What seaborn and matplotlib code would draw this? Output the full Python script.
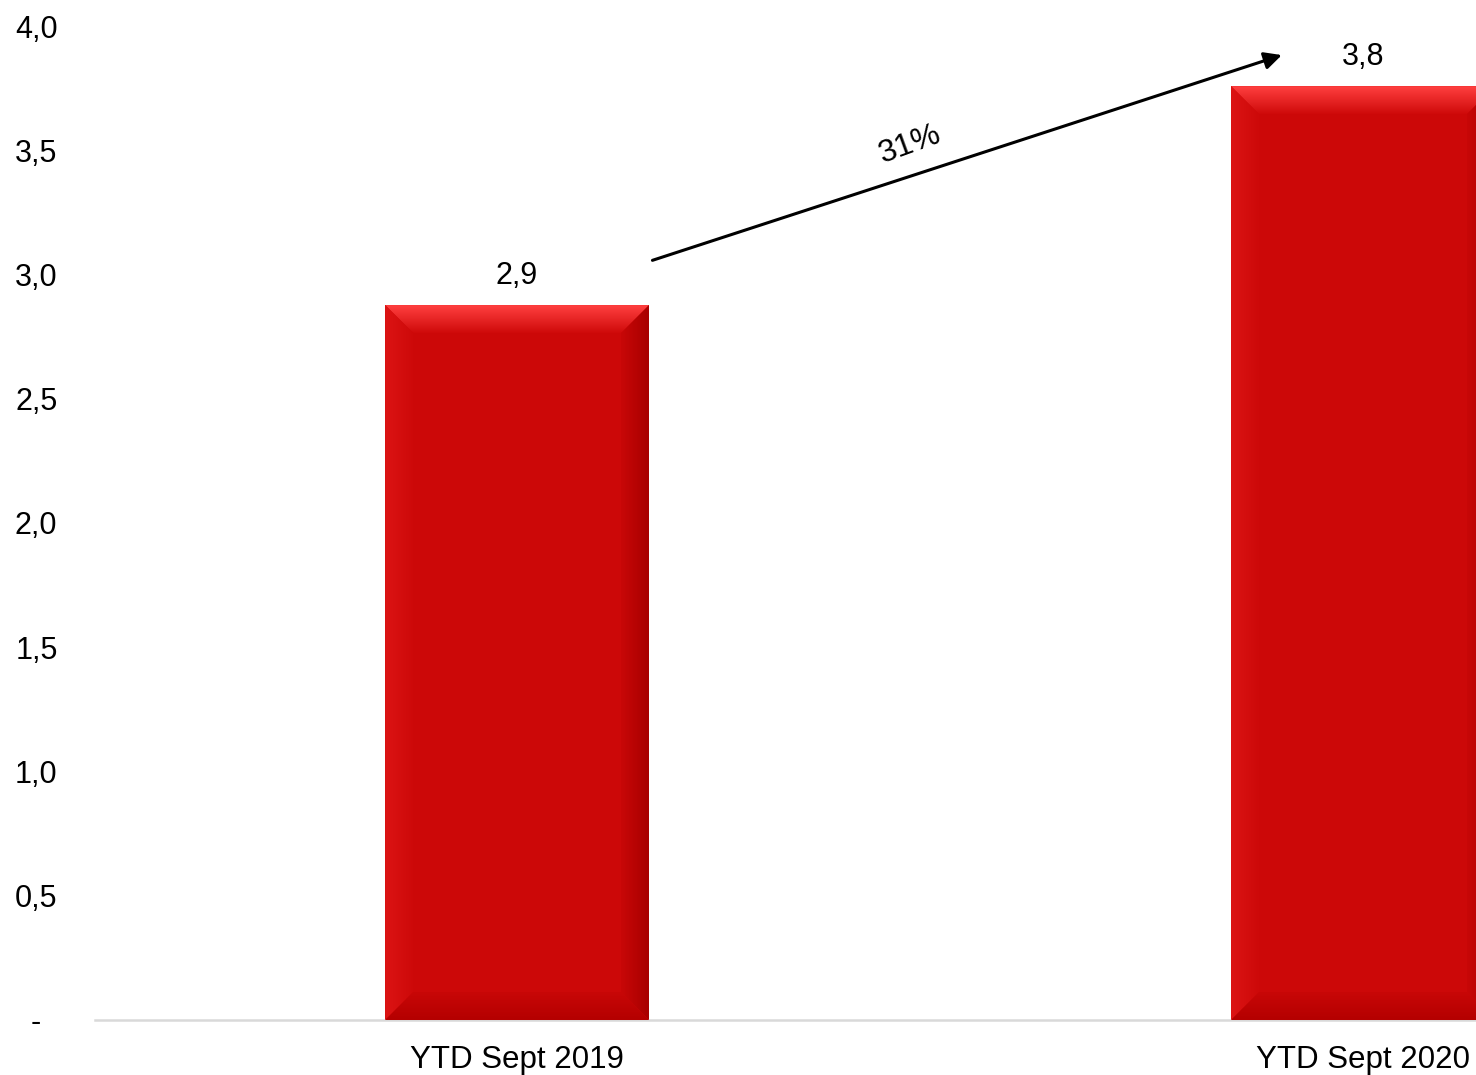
import numpy as np
import pandas as pd
import seaborn as sns
import matplotlib.pyplot as plt
from matplotlib.patches import Polygon
from matplotlib.colors import LinearSegmentedColormap
from matplotlib.transforms import ScaledTranslation

categories = ['YTD Sept 2019', 'YTD Sept 2020']
values = [2.877, 3.758]
value_labels = ['2,9', '3,8']
y_ticks = [0, 0.5, 1.0, 1.5, 2.0, 2.5, 3.0, 3.5, 4.0]
y_tick_labels = ['-', '0,5', '1,0', '1,5', '2,0', '2,5', '3,0', '3,5', '4,0']

sns.set_theme(style='white')
plt.rcParams['font.family'] = ['Liberation Sans', 'DejaVu Sans']

fig = plt.figure(figsize=(14.76, 10.75), dpi=100)
ax = fig.add_axes([95 / 1476, 55 / 1075, 1381 / 1476, 994 / 1075])

df = pd.DataFrame({'period': categories, 'value': values})
sns.barplot(data=df, x='period', y='value', color='#cc0808', saturation=1,
            width=0.312, edgecolor='none', ax=ax)

xlim = (-0.499, 1.1336)
ylim = (0, 4)
ax.set_xlim(*xlim)
ax.set_ylim(*ylim)


def grad_fill(verts, c1, c2, vertical):
    # polygon filled with a linear gradient c1 -> c2 (bottom->top or left->right)
    poly = Polygon(verts, closed=True, facecolor='none', edgecolor='none')
    ax.add_patch(poly)
    xs = [v[0] for v in verts]
    ys = [v[1] for v in verts]
    cmap = LinearSegmentedColormap.from_list('g', [c1, c2])
    ramp = np.linspace(0, 1, 64)
    arr = ramp.reshape(-1, 1) if vertical else ramp.reshape(1, -1)
    im = ax.imshow(arr, cmap=cmap, origin='lower', aspect='auto', zorder=3,
                   extent=[min(xs), max(xs), min(ys), max(ys)])
    im.set_clip_path(poly)


# bevel size ~28 px converted to data units
p00 = ax.transData.transform((0, 0))
p11 = ax.transData.transform((1, 1))
bx = 28 / (p11[0] - p00[0])
by = 28 / (p11[1] - p00[1])

bars = list(ax.patches)
for bar, lab in zip(bars, value_labels):
    x0, y0 = bar.get_x(), bar.get_y()
    w, h = bar.get_width(), bar.get_height()
    x1, top = x0 + w, y0 + h
    grad_fill([(x0, top), (x1, top), (x1 - bx, top - by), (x0 + bx, top - by)],
              '#cf0a0a', '#ff4040', True)
    grad_fill([(x0, y0), (x0, top), (x0 + bx, top - by), (x0 + bx, y0 + by)],
              '#dc1414', '#cd0909', False)
    grad_fill([(x1, y0), (x1, top), (x1 - bx, top - by), (x1 - bx, y0 + by)],
              '#c80707', '#a80000', False)
    grad_fill([(x0, y0), (x1, y0), (x1 - bx, y0 + by), (x0 + bx, y0 + by)],
              '#b40000', '#c80707', True)
    ax.annotate(lab, (x0 + w / 2, top), xytext=(0, 21), textcoords='offset points',
                ha='center', va='center', fontsize=22, color='black')

ax.set_xlim(*xlim)
ax.set_ylim(*ylim)

# growth arrow between the two bars
b0, b1 = bars[0], bars[1]
start = (b0.get_x() + b0.get_width() + 0.004, values[0] + 0.18)
end = (b1.get_x() + 0.06, values[1] + 0.125)
ax.annotate('', xy=end, xytext=start,
            arrowprops=dict(arrowstyle='-|>', color='black', lw=2.2,
                            mutation_scale=26, shrinkA=0, shrinkB=0))
ps = ax.transData.transform(start)
pe = ax.transData.transform(end)
angle = np.degrees(np.arctan2(pe[1] - ps[1], pe[0] - ps[0])) + 2
growth = round((values[1] / values[0] - 1) * 100)
t = 0.41
mid = (start[0] + t * (end[0] - start[0]), start[1] + t * (end[1] - start[1]))
ax.annotate(f'{growth}%', mid, xytext=(0, 23), textcoords='offset points',
            ha='center', va='center', rotation=angle, fontsize=23, color='black')

# axes styling
for side in ['left', 'top', 'right']:
    ax.spines[side].set_visible(False)
ax.spines['bottom'].set_color('#d9d9d9')
ax.spines['bottom'].set_linewidth(1.8)
ax.set_yticks(y_ticks, y_tick_labels)
ax.tick_params(axis='y', length=0, pad=27, labelsize=22, labelcolor='black')
ax.tick_params(axis='x', length=0, pad=18, labelsize=22.5, labelcolor='black')
ax.set_xlabel('')
ax.set_ylabel('')
ax.grid(False)

zero_lab = ax.get_yticklabels()[0]
zero_lab.set_transform(zero_lab.get_transform() + ScaledTranslation(-17 / 100, 0, fig.dpi_scale_trans))

fig.savefig('out.png', dpi=100, facecolor='white')
